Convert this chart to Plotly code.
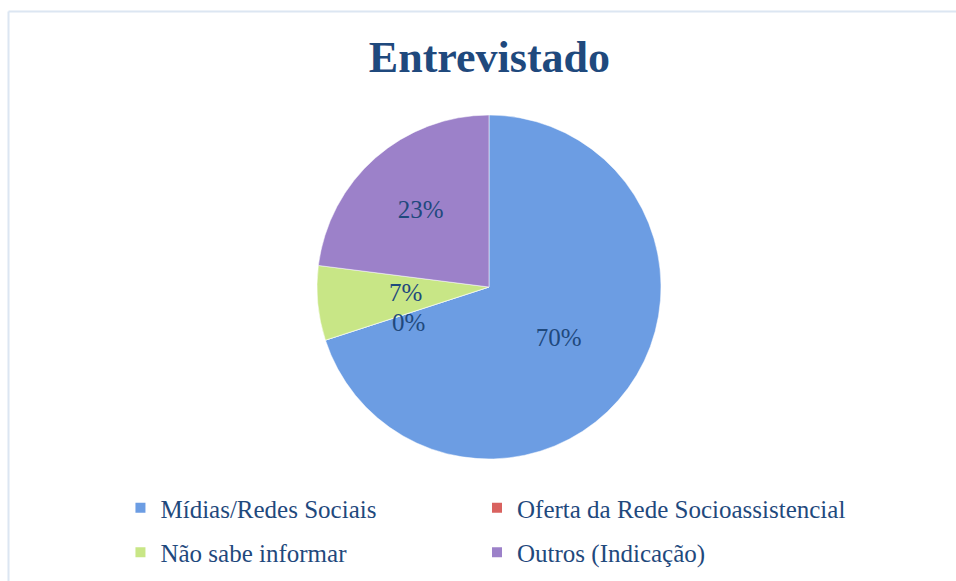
import plotly.graph_objects as go

categories = ["Mídias/Redes Sociais", "Oferta da Rede Socioassistencial", "Não sabe informar", "Outros (Indicação)"]
values = [70, 0, 7, 23]
colors = ["#6C9DE3", "#D9625F", "#C8E686", "#9C81C9"]

TXT = "#1F497D"
FONT = "Liberation Serif"
W, H = 956, 581

total = sum(values)
pct = [round(100 * v / total) for v in values]

fig = go.Figure()
fig.add_trace(go.Pie(
    labels=categories,
    values=values,
    sort=False,
    direction="clockwise",
    rotation=0,
    marker=dict(colors=colors, line=dict(color="#FFFFFF", width=0.5)),
    texttemplate=["%{percent:.0%}", "", "", "%{percent:.0%}"],
    textposition="inside",
    insidetextorientation="horizontal",
    textfont=dict(family=FONT, size=25, color=TXT),
    domain=dict(x=[0.2615, 0.7615], y=[0.210, 0.802]),
    showlegend=False,
    hoverinfo="label+percent",
))

# labels of the two small slices, placed like the original (stacked near the centre)
label_pos = {1: (408, 322), 2: (405, 292)}
for i, (px, py) in label_pos.items():
    fig.add_annotation(text=f"{pct[i]}%", xref="paper", yref="paper",
                       x=px / W, y=1 - py / H, showarrow=False,
                       font=dict(family=FONT, size=25, color=TXT))

# legend entries in two columns (two legends)
for i, cat in enumerate(categories):
    fig.add_trace(go.Scatter(
        x=[None], y=[None], mode="markers", name=cat,
        marker=dict(symbol="square", size=10, color=colors[i]),
        legend="legend" if i % 2 == 0 else "legend2",
        legendgroup=cat, showlegend=True, hoverinfo="skip",
    ))

legend_style = dict(orientation="v", yanchor="top", xanchor="left", tracegroupgap=9,
                    font=dict(family=FONT, size=25, color=TXT), itemwidth=30,
                    bgcolor="rgba(0,0,0,0)")

fig.update_layout(
    width=W, height=H,
    margin=dict(l=0, r=0, t=0, b=0),
    paper_bgcolor="white",
    plot_bgcolor="white",
    xaxis=dict(visible=False),
    yaxis=dict(visible=False),
    title=dict(text="<b>Entrevistado</b>", x=0.512, xanchor="center", y=1 - 57 / H, yanchor="middle",
               font=dict(family=FONT, size=44, color=TXT)),
    legend=dict(x=0.126, y=1 - 485 / H, **legend_style),
    legend2=dict(x=(517 - 40) / W, y=1 - 485 / H, **legend_style),
    shapes=[
        dict(type="line", xref="paper", yref="paper", x0=8.5 / W, x1=1, y0=1 - 11.5 / H, y1=1 - 11.5 / H,
             line=dict(color="#DCE6F2", width=2)),
        dict(type="line", xref="paper", yref="paper", x0=8.5 / W, x1=8.5 / W, y0=0, y1=1 - 11.5 / H,
             line=dict(color="#DCE6F2", width=2)),
    ],
)

fig.write_html("out.html", config={"displayModeBar": False},
               post_script="document.body.style.margin='0';document.body.style.overflow='hidden';")
